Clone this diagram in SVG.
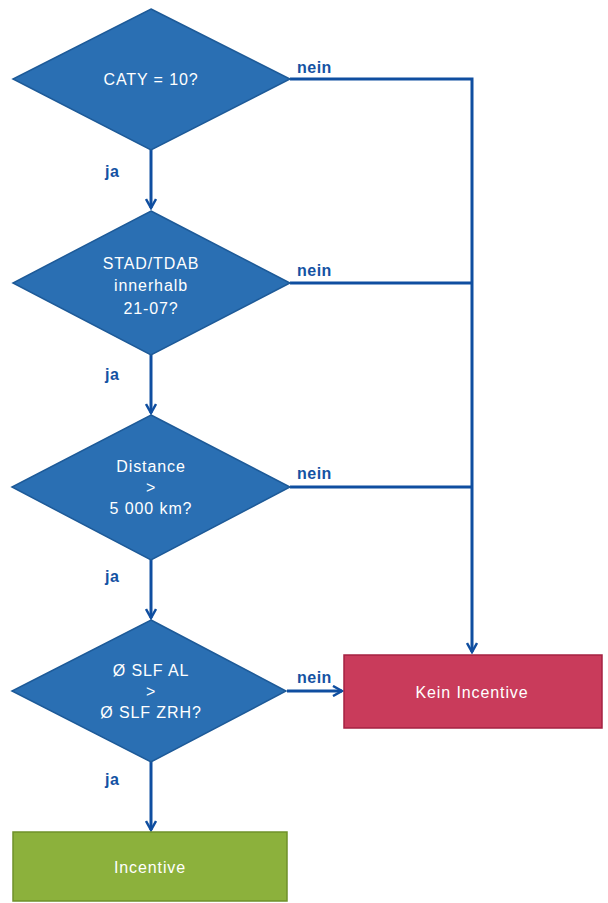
<svg xmlns="http://www.w3.org/2000/svg" width="608" height="903" viewBox="0 0 608 903">
<defs>
<style>
.dia{fill:#2a6fb3;stroke:#1d5a98;stroke-width:1.5}
.t{font-family:"Liberation Sans",Arial,sans-serif;font-size:16px;fill:#ffffff;text-anchor:middle;letter-spacing:0.9px}
.lbl{font-family:"Liberation Sans",Arial,sans-serif;font-size:16px;font-weight:bold;fill:#1452a3;letter-spacing:0.5px}
.ln{fill:none;stroke:#0f4ea0;stroke-width:3}
</style>
<marker id="ah" viewBox="0 0 12 12" refX="10" refY="6" markerWidth="12" markerHeight="12" markerUnits="userSpaceOnUse" orient="auto">
<path d="M1,1 L10,6 L1,11" fill="none" stroke="#0f4ea0" stroke-width="2.5"/>
</marker>
</defs>
<rect width="608" height="903" fill="#ffffff"/>
<g id="connectors">
<line class="ln" x1="151" y1="150" x2="151" y2="208" marker-end="url(#ah)"/>
<line class="ln" x1="151" y1="355" x2="151" y2="413" marker-end="url(#ah)"/>
<line class="ln" x1="151" y1="560" x2="151" y2="618" marker-end="url(#ah)"/>
<line class="ln" x1="151" y1="762" x2="151" y2="830" marker-end="url(#ah)"/>
<polyline class="ln" points="290,79 472,79 472,652" marker-end="url(#ah)"/>
<line class="ln" x1="290" y1="283" x2="472" y2="283"/>
<line class="ln" x1="290" y1="487" x2="472" y2="487"/>
<line class="ln" x1="287" y1="691" x2="342" y2="691" marker-end="url(#ah)"/>
<text class="lbl" x="297" y="73">nein</text>
<text class="lbl" x="297" y="276">nein</text>
<text class="lbl" x="297" y="479">nein</text>
<text class="lbl" x="297" y="683">nein</text>
<text class="lbl" x="105" y="177">ja</text>
<text class="lbl" x="105" y="380">ja</text>
<text class="lbl" x="105" y="582">ja</text>
<text class="lbl" x="105" y="785">ja</text>
</g>
<g id="d1">
<polygon class="dia" points="151,9 290,79 151,150 13,79"/>
<text class="t" x="151" y="85">CATY = 10?</text>
</g>
<g id="d2">
<polygon class="dia" points="151,211 290,283 151,355 13,283"/>
<text class="t" x="151" y="269">STAD/TDAB</text>
<text class="t" x="151" y="291">innerhalb</text>
<text class="t" x="151" y="314">21-07?</text>
</g>
<g id="d3">
<polygon class="dia" points="151,415 290,487 151,560 12,487"/>
<text class="t" x="151" y="472">Distance</text>
<text class="t" x="151" y="493">&gt;</text>
<text class="t" x="151" y="514">5 000 km?</text>
</g>
<g id="d4">
<polygon class="dia" points="151,620 286,691 151,762 12,691"/>
<text class="t" x="151" y="676">Ø SLF AL</text>
<text class="t" x="151" y="697">&gt;</text>
<text class="t" x="151" y="718">Ø SLF ZRH?</text>
</g>
<g id="kein">
<rect x="344" y="655" width="258" height="73" fill="#c93b5b" stroke="#a52242" stroke-width="1.5"/>
<text class="t" x="472" y="698">Kein Incentive</text>
</g>
<g id="incentive">
<rect x="13" y="832" width="274" height="69" fill="#8cb13c" stroke="#6f912a" stroke-width="1.5"/>
<text class="t" x="150" y="873">Incentive</text>
</g>
</svg>
